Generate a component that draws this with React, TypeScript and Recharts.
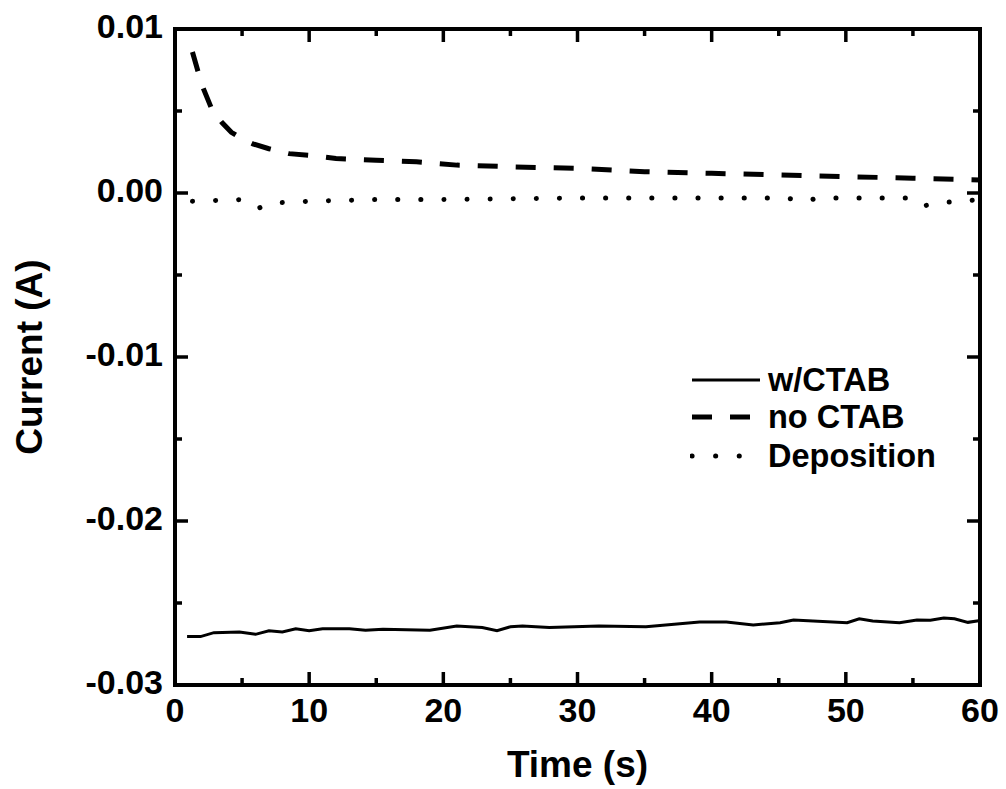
import React from 'react';
import { LineChart, Line, XAxis, YAxis, Legend, ReferenceLine } from 'recharts';

const seriesNames = ['w/CTAB', 'no CTAB', 'Deposition'];
const xTitle = 'Time (s)';
const yTitle = 'Current (A)';

const xTicks = [0, 5, 10, 15, 20, 25, 30, 35, 40, 45, 50, 55, 60];
const yTicks = [-0.03, -0.025, -0.02, -0.015, -0.01, -0.005, 0, 0.005, 0.01];

const wCtabTime = [0.9, 1.9, 2.9, 4.8, 6.0, 7.0, 8.0, 9.0, 10, 11, 13, 14.2, 15.5, 19, 21, 22.9, 24, 25, 25.9, 27.9, 31.6, 35.1, 39.1, 41.1, 43.1, 45.1, 46.1, 50.1, 51.0, 52.0, 54.0, 55.3, 56.3, 57.3, 58.1, 59.1, 59.9];
const wCtabCurrent = [-0.02705, -0.02705, -0.02681, -0.02677, -0.02691, -0.02669, -0.02677, -0.02657, -0.02669, -0.02657, -0.02657, -0.02666, -0.0266, -0.02666, -0.0264, -0.0265, -0.02669, -0.02645, -0.0264, -0.0265, -0.0264, -0.02645, -0.02616, -0.02616, -0.02634, -0.0262, -0.02604, -0.0262, -0.02596, -0.0261, -0.0262, -0.02604, -0.02605, -0.02591, -0.02596, -0.02618, -0.02608];

const noCtabTime = [1.3, 2.0, 2.8, 3.5, 4.2, 5.0, 5.8, 7.0, 8.5, 10, 12, 15, 18, 21, 25, 30, 35, 40, 45, 50, 55, 60];
const noCtabCurrent = [0.0086, 0.0066, 0.005, 0.0043, 0.0037, 0.0033, 0.003, 0.0027, 0.0024, 0.0023, 0.0021, 0.002, 0.0019, 0.0017, 0.0016, 0.0015, 0.0013, 0.0012, 0.0011, 0.001, 0.0009, 0.0008];

const depTime = [1.3, 5.0, 6.3, 7.5, 10, 15, 20, 30, 40, 45.5, 46.9, 48, 54.5, 55.7, 57, 60];
const depCurrent = [-0.0005, -0.0004, -0.0009, -0.0006, -0.0005, -0.0004, -0.0004, -0.0003, -0.0003, -0.0003, -0.0005, -0.0003, -0.0003, -0.0008, -0.0006, -0.0004];

const toData = (xs: number[], ys: number[]) => xs.map((x, i) => ({ x, y: ys[i] }));
const wCtabData = toData(wCtabTime, wCtabCurrent);
const noCtabData = toData(noCtabTime, noCtabCurrent);
const depData = toData(depTime, depCurrent);

const X_MIN = 0;
const X_MAX = 60;
const Y_MIN = -0.03;
const Y_MAX = 0.01;

const FONT = '"Liberation Sans", Arial, Helvetica, sans-serif';
const axisLineStyle = { stroke: '#000', strokeWidth: 4, strokeLinecap: 'square' as const };
const TW = 3.5;

// tick lengths as fractions of the plot size (major 13px, minor 7px of an ~805 x 656 px plot)
const XMAJ = (X_MAX - X_MIN) * (13 / 805);
const XMIN = (X_MAX - X_MIN) * (7 / 805);
const YMAJ = (Y_MAX - Y_MIN) * (13 / 656);
const YMIN = (Y_MAX - Y_MIN) * (7 / 656);

const isMajorX = (v: number) => Math.abs(v / 10 - Math.round(v / 10)) < 1e-6;
const isMajorY = (v: number) => Math.abs(v * 100 - Math.round(v * 100)) < 1e-6;

const BottomTick = (p: any) => {
  const v = Number(p.payload.value);
  const major = isMajorX(v);
  const isCenter = Math.abs(v - 30) < 1e-6;
  return (
    <g>
      {major && (
        <text x={p.x} y={p.y + 13} dy="0.71em" textAnchor="middle" fontSize={34} fontWeight={700} fontFamily={FONT} fill="#000">{String(v)}</text>
      )}
      {isCenter && (
        <text x={p.x} y={p.y + 92} textAnchor="middle" fontSize={37} fontWeight={700} fontFamily={FONT} fill="#000">{xTitle}</text>
      )}
    </g>
  );
};
const LeftTick = (p: any) => {
  const v = Number(p.payload.value);
  const major = isMajorY(v);
  const isCenter = Math.abs(v + 0.01) < 1e-9;
  const cx = p.x - 146;
  return (
    <g>
      {major && (
        <text x={p.x - 12} y={p.y - 3} dy="0.355em" textAnchor="end" fontSize={34} fontWeight={700} fontFamily={FONT} fill="#000">{v.toFixed(2)}</text>
      )}
      {isCenter && (
        <text x={cx} y={p.y} transform={`rotate(-90, ${cx}, ${p.y})`} textAnchor="middle" dy="0.355em" fontSize={37} fontWeight={700} fontFamily={FONT} fill="#000">{yTitle}</text>
      )}
    </g>
  );
};
const EmptyTick = () => <g />;

const LegendContent = () => {
  const rows = [
    { name: seriesNames[0], dash: undefined, w: 3, x2: 70, cap: 'butt' },
    { name: seriesNames[1], dash: '20 18', w: 5, x2: 60, cap: 'butt' },
    { name: seriesNames[2], dash: '0.1 23.5', w: 5, x2: 51, cap: 'round' },
  ];
  const ys = [20, 57, 96];
  return (
    <svg width={290} height={120} style={{ display: 'block' }}>
      {rows.map((r, i) => (
        <g key={r.name}>
          <line x1={2} x2={r.x2} y1={ys[i]} y2={ys[i]} stroke="#000" strokeWidth={r.w} strokeDasharray={r.dash} strokeLinecap={r.cap as any} />
          <text x={78} y={ys[i]} dominantBaseline="central" fontSize={32.5} fontWeight={700} fontFamily={FONT} fill="#000">{r.name}</text>
        </g>
      ))}
    </svg>
  );
};

const common = { tickSize: 0, tickMargin: 0, tickLine: false };

const tickMarks: React.ReactNode[] = [];
xTicks.forEach((v) => {
  const len = isMajorX(v) ? XMAJ : XMIN;
  const ylen = isMajorX(v) ? YMAJ : YMIN;
  void len;
  tickMarks.push(
    <ReferenceLine key={`b${v}`} xAxisId="b" yAxisId="l" ifOverflow="visible" stroke="#000" strokeWidth={TW}
      segment={[{ x: v, y: Y_MIN }, { x: v, y: Y_MIN + ylen }]} />,
    <ReferenceLine key={`t${v}`} xAxisId="b" yAxisId="l" ifOverflow="visible" stroke="#000" strokeWidth={TW}
      segment={[{ x: v, y: Y_MAX }, { x: v, y: Y_MAX - ylen }]} />,
  );
});
yTicks.forEach((v) => {
  const xlen = isMajorY(v) ? XMAJ : XMIN;
  tickMarks.push(
    <ReferenceLine key={`l${v}`} xAxisId="b" yAxisId="l" ifOverflow="visible" stroke="#000" strokeWidth={TW}
      segment={[{ x: X_MIN, y: v }, { x: X_MIN + xlen, y: v }]} />,
    <ReferenceLine key={`r${v}`} xAxisId="b" yAxisId="l" ifOverflow="visible" stroke="#000" strokeWidth={TW}
      segment={[{ x: X_MAX, y: v }, { x: X_MAX - xlen, y: v }]} />,
  );
});

export default function App() {
  return (
    <div style={{ position: 'absolute', left: 0, top: 0, width: 1006, height: 789, background: '#fff' }}>
      <LineChart width={1006} height={789} margin={{ top: 28, right: 25, bottom: 103, left: 174 }}>
        <XAxis xAxisId="b" dataKey="x" type="number" domain={[X_MIN, X_MAX]} ticks={xTicks} height={1} orientation="bottom"
          axisLine={axisLineStyle} {...common} tick={BottomTick} />
        <XAxis xAxisId="t" dataKey="x" type="number" domain={[X_MIN, X_MAX]} ticks={xTicks} height={1} orientation="top"
          axisLine={axisLineStyle} {...common} tick={EmptyTick} />
        <YAxis yAxisId="l" type="number" domain={[Y_MIN, Y_MAX]} ticks={yTicks} width={1} orientation="left"
          axisLine={axisLineStyle} {...common} tick={LeftTick} />
        <YAxis yAxisId="r" type="number" domain={[Y_MIN, Y_MAX]} ticks={yTicks} width={1} orientation="right"
          axisLine={axisLineStyle} {...common} tick={EmptyTick} />
        {tickMarks}
        <Line xAxisId="b" yAxisId="l" data={wCtabData} dataKey="y" name={seriesNames[0]} type="linear" stroke="#000" strokeWidth={3} dot={false} isAnimationActive={false} />
        <Line xAxisId="t" yAxisId="r" data={noCtabData} dataKey="y" name={seriesNames[1]} type="linear" stroke="#000" strokeWidth={5} strokeDasharray="20 18" dot={false} isAnimationActive={false} />
        <Line xAxisId="b" yAxisId="l" data={depData} dataKey="y" name={seriesNames[2]} type="linear" stroke="#000" strokeWidth={5} strokeDasharray="0.1 23" strokeLinecap="round" dot={false} isAnimationActive={false} />
        <Legend layout="vertical" align="center" verticalAlign="middle" content={LegendContent}
          wrapperStyle={{ left: 690, top: 360, width: 290, height: 120 }} />
      </LineChart>
    </div>
  );
}
